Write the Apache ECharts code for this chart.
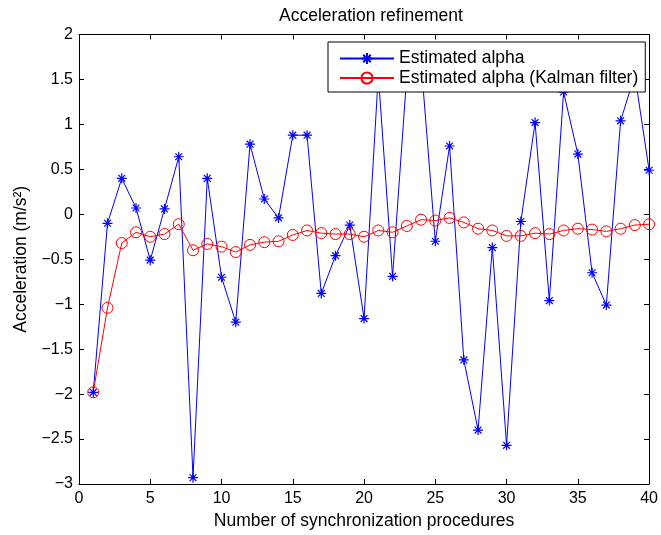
<!DOCTYPE html>
<html>
<head>
<meta charset="utf-8">
<script src="https://cdn.jsdelivr.net/npm/echarts@6/dist/echarts.min.js"></script>
<style>html,body{margin:0;padding:0;background:#fff}#c{width:661px;height:535px}</style>
</head>
<body>
<div id="c"></div>
<script>
const steps = [1,2,3,4,5,6,7,8,9,10,11,12,13,14,15,16,17,18,19,20,21,22,23,24,25,26,27,28,29,30,31,32,33,34,35,36,37,38,39,40];
const estimatedAlpha = [-1.98,-0.10,0.40,0.07,-0.51,0.06,0.64,-2.93,0.40,-0.70,-1.20,0.78,0.17,-0.04,0.88,0.88,-0.88,-0.46,-0.12,-1.16,1.55,-0.69,1.55,1.70,-0.30,0.76,-1.62,-2.40,-0.37,-2.57,-0.08,1.02,-0.96,1.36,0.67,-0.65,-1.01,1.04,1.55,0.49];
const kalmanAlpha = [-1.98,-1.04,-0.32,-0.20,-0.25,-0.22,-0.11,-0.40,-0.33,-0.36,-0.42,-0.34,-0.31,-0.30,-0.23,-0.18,-0.21,-0.22,-0.22,-0.25,-0.18,-0.20,-0.13,-0.06,-0.07,-0.04,-0.09,-0.16,-0.18,-0.24,-0.24,-0.21,-0.22,-0.18,-0.16,-0.17,-0.19,-0.16,-0.12,-0.11];
const seriesNames = ['Estimated alpha', 'Estimated alpha (Kalman filter)'];
const titleText = 'Acceleration refinement';
const xName = 'Number of synchronization procedures';
const yName = 'Acceleration (m/s²)';

const FONT = 'Liberation Sans';
const FS = 16;
const FL = 17.5;
const chart = echarts.init(document.getElementById('c'), null, {renderer: 'canvas'});
const star = 'path://M5,0L5,10M0,5L10,5M1.6,1.6L8.4,8.4M1.6,8.4L8.4,1.6';
const fmtY = v => (Math.abs(v) < 1e-9 ? '0' : String(v).replace('-', '\u2212'));
const axisCommon = {
  type: 'value',
  axisLine: {show: true, onZero: false, lineStyle: {color: '#000', width: 1}},
  axisTick: {show: true, inside: true, length: 5, lineStyle: {color: '#000', width: 1}},
  splitLine: {show: false}
};
chart.setOption({
  animation: false,
  backgroundColor: '#fff',
  textStyle: {fontFamily: FONT},
  title: {
    text: titleText, left: 366, top: 2, textAlign: 'center',
    textStyle: {fontFamily: FONT, fontSize: FL, fontWeight: 'normal', color: '#000'}
  },
  grid: {left: 79, right: 8, top: 34.5, bottom: 50.5, containLabel: false},
  legend: {
    orient: 'vertical', left: 328, top: 42,
    itemWidth: 54, itemHeight: 14, itemGap: 1.5,
    padding: [7.5, 7, 5, 11],
    backgroundColor: '#fff', borderColor: '#000', borderWidth: 1, borderRadius: 0,
    textStyle: {fontFamily: FONT, fontSize: FL, color: '#000'},
    data: seriesNames
  },
  xAxis: [
    Object.assign({}, axisCommon, {
      position: 'bottom', min: 0, max: 40, interval: 5,
      name: xName, nameLocation: 'middle', nameGap: 28,
      nameTextStyle: {fontFamily: FONT, fontSize: FL, color: '#000'},
      axisLabel: {fontFamily: FONT, fontSize: FS, color: '#000', margin: 7}
    }),
    Object.assign({}, axisCommon, {
      position: 'top', min: 0, max: 40, interval: 5, axisLabel: {show: false}
    })
  ],
  yAxis: [
    Object.assign({}, axisCommon, {
      position: 'left', min: -3, max: 2, interval: 0.5,
      name: yName, nameLocation: 'middle', nameGap: 46,
      nameTextStyle: {fontFamily: FONT, fontSize: FL, color: '#000'},
      axisLabel: {fontFamily: FONT, fontSize: FS, color: '#000', margin: 6, formatter: fmtY}
    }),
    Object.assign({}, axisCommon, {
      position: 'right', min: -3, max: 2, interval: 0.5, axisLabel: {show: false}
    })
  ],
  series: [
    {
      name: seriesNames[0], type: 'line',
      data: steps.map((s, i) => [s, estimatedAlpha[i]]),
      color: '#0000ff',
      symbol: star, symbolSize: 10, showAllSymbol: true,
      lineStyle: {color: '#0000ff', width: 1},
      itemStyle: {color: '#0000ff', borderColor: '#0000ff', borderWidth: 1.2}
    },
    {
      name: seriesNames[1], type: 'line',
      data: steps.map((s, i) => [s, kalmanAlpha[i]]),
      color: '#ff0000',
      symbol: 'circle', symbolSize: 11, showAllSymbol: true,
      lineStyle: {color: '#ff0000', width: 1},
      itemStyle: {color: 'rgba(0,0,0,0)', borderColor: '#ff0000', borderWidth: 1}
    }
  ]
});
</script>
</body>
</html>
